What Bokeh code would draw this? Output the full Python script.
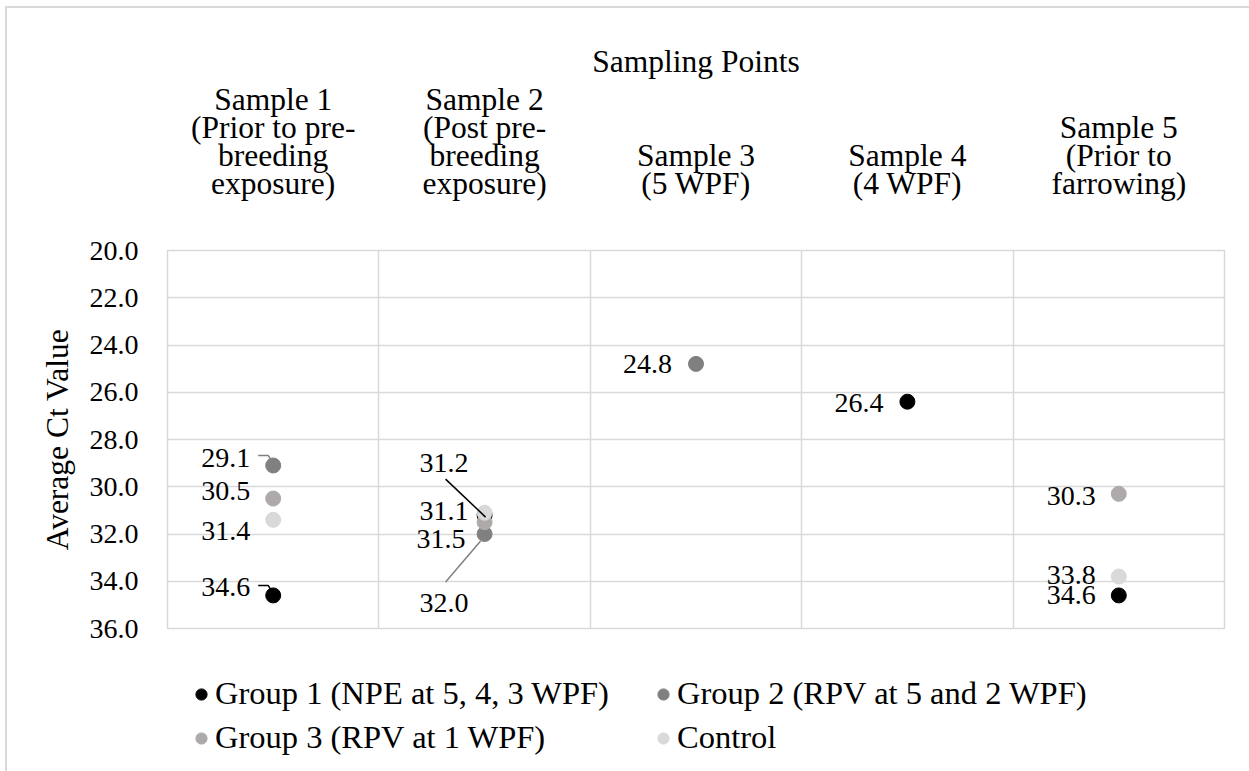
from bokeh.plotting import figure
from bokeh.models import (ColumnDataSource, Range1d, FixedTicker, PrintfTickFormatter,
                          Legend, LegendItem)
from bokeh.embed import file_html
from bokeh.resources import INLINE

# ---- data -------------------------------------------------------------
samples = [
    "Sample 1\n(Prior to pre-\nbreeding\nexposure)",
    "Sample 2\n(Post pre-\nbreeding\nexposure)",
    "Sample 3\n(5 WPF)",
    "Sample 4\n(4 WPF)",
    "Sample 5\n(Prior to\nfarrowing)",
]
series_names = [
    "Group 1 (NPE at 5, 4, 3 WPF)",
    "Group 2 (RPV at 5 and 2 WPF)",
    "Group 3 (RPV at 1 WPF)",
    "Control",
]
group1 = [34.6, 31.2, None, 26.4, 34.6]
group2 = [29.1, 32.0, 24.8, None, None]
group3 = [30.5, 31.5, None, None, 30.3]
control = [31.4, 31.1, None, None, 33.8]
y_ticks = [20, 22, 24, 26, 28, 30, 32, 34, 36]

# ---- styling ----------------------------------------------------------
colors = ["#000000", "#808080", "#AEAAAA", "#D9D9D9"]
FONT = "Liberation Serif"
FS_BIG = "31.5px"   # titles, category labels
FS_LEG = "32.5px"   # legend entries
FS_SMALL = "28px"   # value ticks, data labels
GRID = "#D9D9D9"
FRAME_W, FRAME_H = 1057, 378

# label placement: (dx, dy) in pixels of the label's right/middle point from its marker
label_shift = {
    (0, 0): (-23, -8), (0, 1): (-16, -52), (0, 3): (-24, 1), (0, 4): (-23, 0),
    (1, 0): (-23, -7), (1, 1): (-16, 69), (1, 2): (-24, 0),
    (2, 0): (-23, -8), (2, 1): (-19, 17), (2, 4): (-23, 2),
    (3, 0): (-23, 11), (3, 1): (-16, -2), (3, 4): (-23, -2),
}
# leader lines: pixel vertices relative to the marker centre
leaders = {
    (1, 0): [(-15, -10), (-5, -10), (-2, -5)],
    (0, 0): [(-15, -10), (-5, -10), (-2, -5)],
    (0, 1): [(-39, -36), (1, 2)],
    (1, 1): [(-39, 48), (-4, 7)],
}

y_lo, y_hi = y_ticks[0], y_ticks[-1]
ux = len(samples) / FRAME_W
uy = (y_hi - y_lo) / FRAME_H

p = figure(
    frame_width=FRAME_W, frame_height=FRAME_H,
    x_range=Range1d(0, len(samples)), y_range=Range1d(y_hi, y_lo),
    x_axis_location="above",
    output_backend="svg", toolbar_location=None,
    min_border_left=160, min_border_top=242, min_border_right=25, min_border_bottom=143,
    background_fill_color="white", border_fill_color="white",
)
p.styles = {
    "margin-left": "5px", "margin-top": "6px",
    "border-left": "2px solid #D9D9D9", "border-top": "2px solid #D9D9D9",
}
p.outline_line_color = GRID
p.outline_line_width = 1.5

centers = [i + 0.5 for i in range(len(samples))]

# top category axis
xa = p.xaxis[0]
xa.ticker = FixedTicker(ticks=centers)
xa.major_label_overrides = {c: s for c, s in zip(centers, samples)}
xa.axis_line_color = None
xa.major_tick_line_color = None
xa.minor_tick_line_color = None
xa.major_tick_out = 0
xa.major_tick_in = 0
xa.major_label_text_font = FONT
xa.major_label_text_font_size = FS_BIG
xa.major_label_text_line_height = 0.795
xa.major_label_standoff = 50
xa.major_label_text_color = "black"

# value axis
ya = p.yaxis[0]
ya.ticker = FixedTicker(ticks=y_ticks)
ya.formatter = PrintfTickFormatter(format="%.1f")
ya.axis_line_color = None
ya.major_tick_line_color = None
ya.minor_tick_line_color = None
ya.major_tick_out = 0
ya.major_tick_in = 0
ya.major_label_text_font = FONT
ya.major_label_text_font_size = FS_SMALL
ya.major_label_text_color = "black"
ya.major_label_standoff = 29
ya.axis_label = "Average Ct Value"
ya.axis_label_text_font = FONT
ya.axis_label_text_font_size = FS_BIG
ya.axis_label_text_font_style = "normal"
ya.axis_label_text_color = "black"
ya.axis_label_standoff = 12

p.xgrid.ticker = FixedTicker(ticks=[i for i in range(1, len(samples))])
p.ygrid.ticker = FixedTicker(ticks=y_ticks)
p.xgrid.grid_line_color = GRID
p.ygrid.grid_line_color = GRID
p.xgrid.grid_line_width = 1.5
p.ygrid.grid_line_width = 1.5

p.title.text = "Sampling Points"
p.title.align = "center"
p.title.text_font = FONT
p.title.text_font_size = FS_BIG
p.title.text_font_style = "normal"
p.title.text_color = "black"
p.title.standoff = 2

# ---- series -----------------------------------------------------------
all_series = [group1, group2, group3, control]
renderers = []
for si, vals in enumerate(all_series):
    xs = [centers[i] for i, v in enumerate(vals) if v is not None]
    ys = [v for v in vals if v is not None]
    src = ColumnDataSource(dict(x=xs, y=ys))
    r = p.scatter("x", "y", source=src, size=15, marker="circle",
                  fill_color=colors[si], line_color=colors[si])
    renderers.append(r)

# leader lines first, under the labels
for si, vals in enumerate(all_series):
    lx, ly = [], []
    for i, v in enumerate(vals):
        if v is None or (si, i) not in leaders:
            continue
        lx.append([centers[i] + dx * ux for dx, dy in leaders[(si, i)]])
        ly.append([v + dy * uy for dx, dy in leaders[(si, i)]])
    if lx:
        p.multi_line(lx, ly, line_color=colors[si], line_width=1.5)

# data labels
for si, vals in enumerate(all_series):
    tx, ty, tt = [], [], []
    for i, v in enumerate(vals):
        if v is None:
            continue
        dx, dy = label_shift.get((si, i), (-23, 0))
        tx.append(centers[i] + dx * ux)
        ty.append(v + dy * uy)
        tt.append(f"{v:.1f}")
    lsrc = ColumnDataSource(dict(x=tx, y=ty, t=tt))
    p.text("x", "y", text="t", source=lsrc, text_align="right", text_baseline="middle",
           text_font={"value": FONT}, text_font_size={"value": FS_SMALL}, text_color="black")

# ---- legend (two columns, filled column by column) ---------------------
legend_order = [0, 2, 1, 3]
legend = Legend(
    items=[LegendItem(label=series_names[k], renderers=[renderers[k]]) for k in legend_order],
    ncols=2, location="top_left",
    label_text_font=FONT, label_text_font_size=FS_LEG, label_text_color="black",
    glyph_width=28, glyph_height=28, label_height=28, label_width=427, label_standoff=-4,
    spacing=7, padding=0, margin=20,
    border_line_color=None, background_fill_alpha=0,
    title="\u00a0", title_text_font_size="18px", title_standoff=6,
)
p.add_layout(legend, "below")

open("out.html", "w").write(file_html(p, INLINE))
